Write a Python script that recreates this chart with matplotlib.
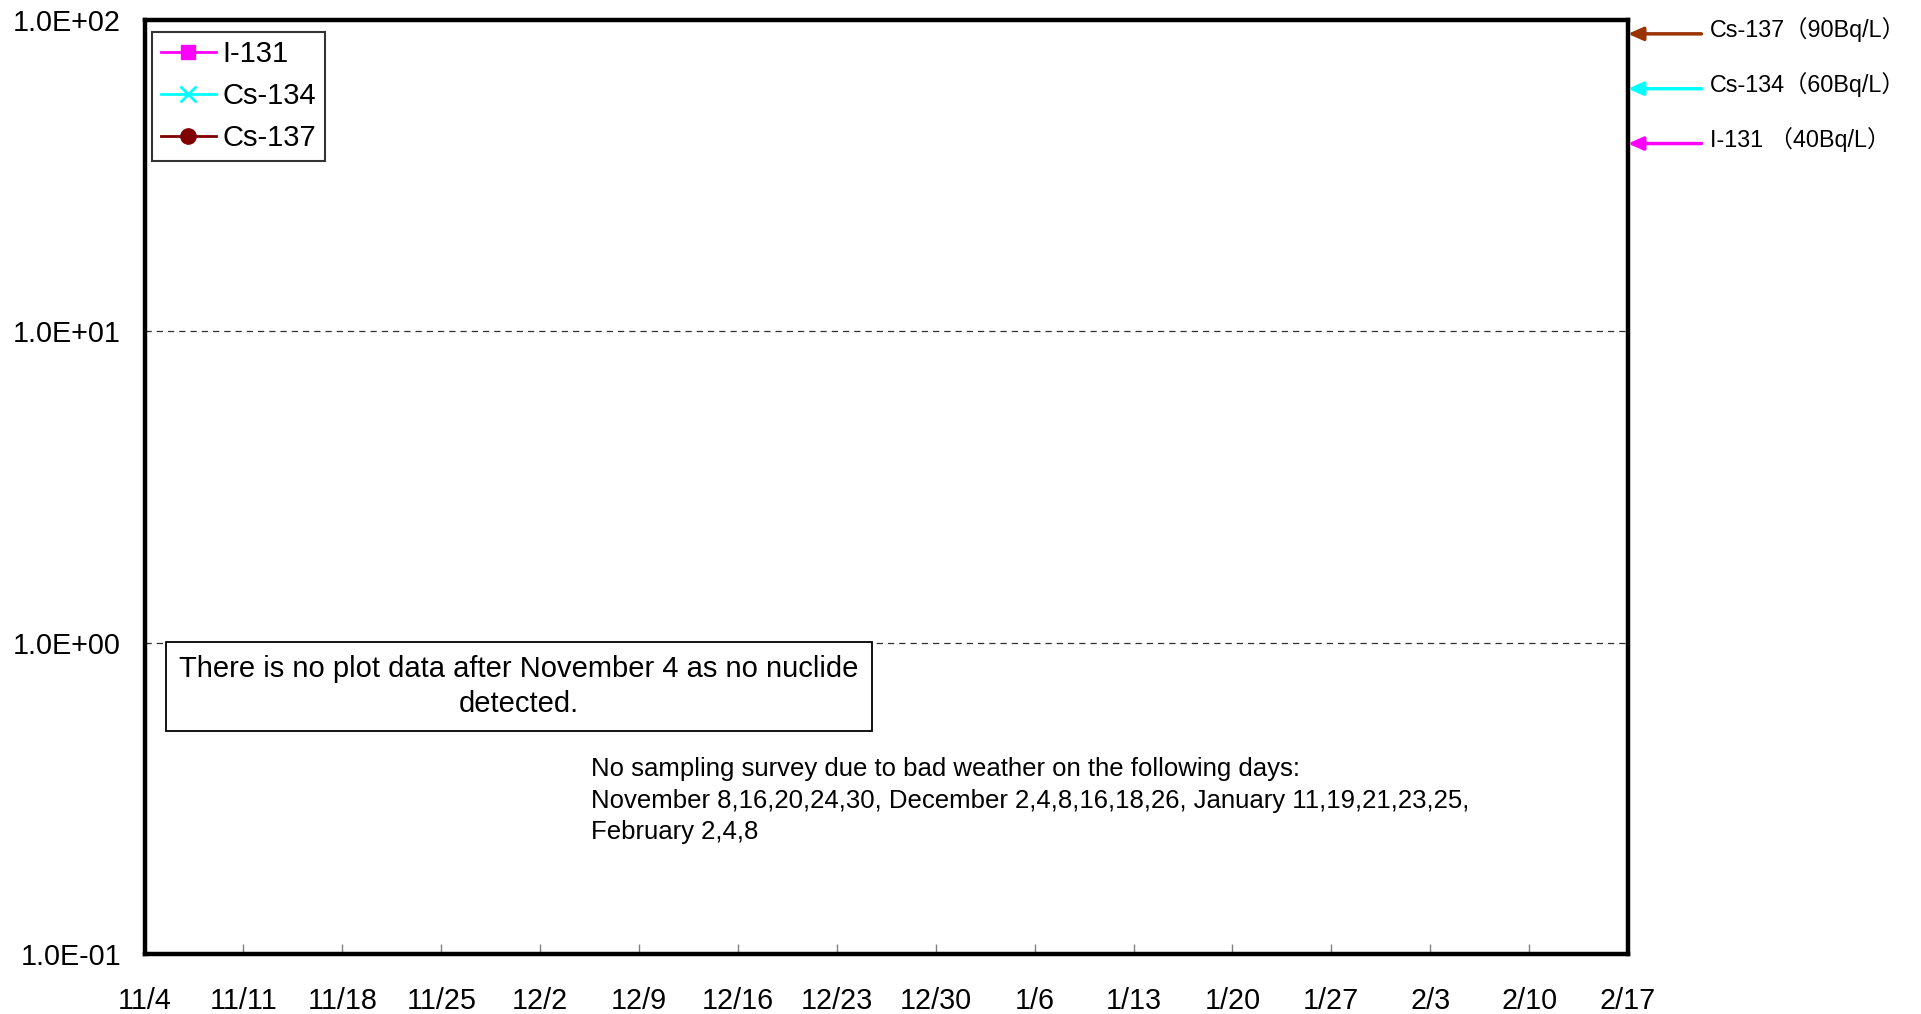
import datetime as dt
import matplotlib
matplotlib.use("Agg")
import matplotlib.pyplot as plt
import matplotlib.dates as mdates
from matplotlib.ticker import FixedLocator, FuncFormatter

#Data: no nuclide detected after 11/4, so the series are empty
dates = []
i131 = []
cs134 = []
cs137 = []

start = dt.date(2012, 11, 4)
end = dt.date(2013, 2, 17)
week_ticks = [start + dt.timedelta(days=7 * k) for k in range(16)]

y_ticks = [0.1, 1, 10, 100]
y_labels = ["1.0E-01", "1.0E+00", "1.0E+01", "1.0E+02"]

limit_names = ["Cs-137（90Bq/L）", "Cs-134（60Bq/L）", "I-131 （40Bq/L）"]
limit_values = [90, 60, 40]
limit_colors = ["#993300", "#00FFFF", "#FF00FF"]

plt.rcParams['font.family'] = ['Liberation Sans', 'Noto Sans CJK JP', 'DejaVu Sans']

fig = plt.figure(figsize=(19.21, 10.14), dpi=100)
ax = fig.add_axes([144.6 / 1921, 1 - 954 / 1014, (1628 - 144.6) / 1921, (954 - 19.6) / 1014])

#Series (empty, kept for the legend)
ax.plot(dates, i131, color="#FF00FF", marker="s", markersize=10, lw=2, label="I-131")
ax.plot(dates, cs134, color="#00FFFF", marker="x", markersize=11, mew=2, lw=2, label="Cs-134")
ax.plot(dates, cs137, color="#800000", marker="o", markersize=11, lw=2, label="Cs-137")

ax.set_yscale("log")
ax.set_ylim(0.1, 100)
ax.yaxis.set_major_locator(FixedLocator(y_ticks))
ax.yaxis.set_minor_locator(FixedLocator([]))
ax.set_yticks(y_ticks)
ax.set_yticklabels(y_labels)
ax.tick_params(axis="y", length=0, pad=17, labelsize=20.7)

ax.set_xlim(mdates.date2num(start), mdates.date2num(end))
ax.set_xticks([mdates.date2num(d) for d in week_ticks])
ax.xaxis.set_major_formatter(FuncFormatter(lambda v, p: f"{mdates.num2date(v).month}/{mdates.num2date(v).day}"))
ax.tick_params(axis="x", direction="in", length=7, width=1, color="#808080", pad=24, labelsize=20.7)

#Dashed grid only at 1 and 10
for yv in [1, 10]:
    ax.axhline(yv, color="#303030", lw=0.9, ls=(0, (5, 4)), zorder=0)

for s in ax.spines.values():
    s.set_linewidth(3.2)
    s.set_color("black")

leg = ax.legend(loc="upper left", bbox_to_anchor=(0.005, 0.987), fontsize=21, frameon=True,
                fancybox=False, handlelength=1.9, handletextpad=0.2, borderpad=0.3,
                labelspacing=0.48, borderaxespad=0)
leg.get_frame().set_edgecolor("black")
leg.get_frame().set_linewidth(1.5)

#Limit arrows on the right
for name, val, col in zip(limit_names, limit_values, limit_colors):
    ax.annotate("", xy=(1.0, val), xycoords=("axes fraction", "data"),
                xytext=(1.0495, val), textcoords=("axes fraction", "data"),
                arrowprops=dict(arrowstyle="-|>,head_length=0.9,head_width=0.4", color=col, lw=2.5,
                                shrinkA=0, shrinkB=0), annotation_clip=False)
    ax.text(1.055, val * 1.03, name, transform=ax.get_yaxis_transform(), fontsize=16.8,
            va="center", ha="left", clip_on=False)

#Note boxes
ax.text(0.2525, 0.286, "There is no plot data after November 4 as no nuclide\ndetected.",
        transform=ax.transAxes, ha="center", va="center", fontsize=21,
        linespacing=1.3,
        bbox=dict(boxstyle="square,pad=0.45", fc="white", ec="black", lw=1.3))
ax.text(0.3006, 0.2105, "No sampling survey due to bad weather on the following days:\n"
        "November 8,16,20,24,30, December 2,4,8,16,18,26, January 11,19,21,23,25,\n"
        "February 2,4,8",
        transform=ax.transAxes, ha="left", va="top", fontsize=18.5, linespacing=1.38)

fig.savefig("out.png", dpi=100)
